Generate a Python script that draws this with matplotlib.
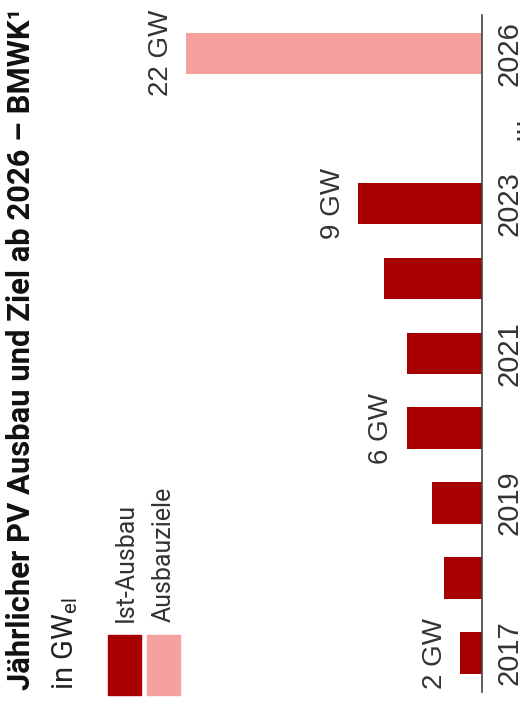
import matplotlib.pyplot as plt
from matplotlib.patches import Rectangle

# annual PV additions in Germany (GW), target for 2026
years = ['2017', '2018', '2019', '2020', '2021', '2022', '2023', '...', '2026']
year_ticks = ['2017', '', '2019', '', '2021', '', '2023', '...', '2026']
ist_ausbau = [1.6, 2.8, 3.7, 5.6, 5.6, 7.3, 9.2, None, None]
ausbauziel = [None, None, None, None, None, None, None, None, 22]
labelled = ['2017', '2020', '2023', '2026']

dark_red = '#A80000'
light_red = '#F5A19D'
narrow = ['Liberation Sans Narrow', 'Roboto', 'DejaVu Sans']
plain = ['Liberation Sans', 'DejaVu Sans']

W, H = 530, 704
fig = plt.figure(figsize=(W / 100, H / 100), dpi=100)

# axes in pixel terms, baseline on the right edge at x=482
px = 13.45  # pixels per GW
ax = fig.add_axes([0, 12 / H, 482 / W, (692 - 15) / H])
ax.set_xlim(482 / px, 0)
ax.set_ylim(-0.52, 8.51)

pos = list(range(len(years)))
for i, y in enumerate(years):
    v, c = ist_ausbau[i], dark_red
    if v is None:
        v, c = ausbauziel[i], light_red
    if v is None:
        continue
    ax.barh(i, v, height=0.55, color=c)
    if y in labelled:
        ax.annotate(f'{v:.0f} GW', (v, i), xytext=(-9, 0), textcoords='offset points',
                    rotation=90, ha='right', va='center', fontsize=20,
                    family=plain, color='#333333')

for s in ['left', 'top', 'bottom']:
    ax.spines[s].set_visible(False)
ax.spines['right'].set_color('#444444')
ax.spines['right'].set_linewidth(1.2)
ax.set_xticks([])
ax.yaxis.tick_right()
ax.set_yticks(pos)
ax.set_yticklabels(year_ticks, rotation=90, va='center', fontsize=21, family=plain, color='#333333')
ax.tick_params(axis='y', length=0, pad=10)

# title and unit
fig.text(6 / W, (H - 690) / H, 'Jährlicher PV Ausbau und Ziel ab 2026 – BMWK¹',
         rotation=90, ha='left', va='bottom', fontsize=22.3, fontweight='bold',
         family=narrow, color='#111111')
fig.text(50 / W, (H - 690) / H, 'in GW$_{\\mathregular{el}}$', rotation=90,
         ha='left', va='bottom', fontsize=21, family=narrow, color='#222222')

# legend
fig.add_artist(Rectangle((108 / W, 9 / H), 33 / W, 60 / H, transform=fig.transFigure,
                         color=dark_red))
fig.add_artist(Rectangle((147 / W, 9 / H), 33 / W, 60 / H, transform=fig.transFigure,
                         color=light_red))
fig.text(126 / W, (H - 622) / H, 'Ist-Ausbau', rotation=90, ha='center', va='bottom',
         fontsize=18, family=narrow, color='#333333')
fig.text(164 / W, (H - 622) / H, 'Ausbauziele', rotation=90, ha='center', va='bottom',
         fontsize=18, family=narrow, color='#333333')

fig.savefig('out.png', dpi=100)
